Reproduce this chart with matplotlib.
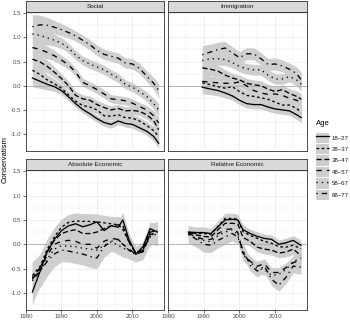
import matplotlib
matplotlib.use('Agg')
import matplotlib.pyplot as plt
import numpy as np
from matplotlib.patches import Patch
from matplotlib.lines import Line2D
from matplotlib.ticker import MultipleLocator, FixedLocator

plt.rcParams['font.family'] = ['Liberation Sans', 'DejaVu Sans']

# ---------------- data ----------------
ages = ['18–27', '28–37', '38–47', '48–57', '58–67', '68–77']
age_dashes = [None, (2, 2), (4, 2), (4, 4), (1, 3), (1, 3, 4, 3)]
age_se_mult = [0.9, 0.9, 1.0, 1.0, 1.1, 1.25]

panel_titles = ['Social', 'Immigration', 'Absolute Economic', 'Relative Economic']

social_years = [1981.8, 1984, 1986, 1988, 1990, 1992, 1994, 1996, 1998, 2000,
                2002, 2004, 2006, 2008, 2010, 2012, 2014, 2016, 2017.4]
social_vals = [
    [0.16, 0.09, 0.03, -0.02, -0.10, -0.23, -0.37, -0.49, -0.58, -0.68, -0.76, -0.80, -0.73, -0.78, -0.80, -0.87, -0.94, -1.05, -1.19],
    [0.32, 0.23, 0.12, 0.04, -0.05, -0.19, -0.32, -0.41, -0.44, -0.50, -0.62, -0.63, -0.60, -0.66, -0.67, -0.73, -0.82, -0.93, -1.05],
    [0.55, 0.49, 0.40, 0.28, 0.15, 0.00, -0.20, -0.27, -0.30, -0.39, -0.45, -0.50, -0.47, -0.52, -0.51, -0.53, -0.60, -0.72, -0.91],
    [0.79, 0.75, 0.69, 0.62, 0.53, 0.43, 0.28, 0.07, 0.00, -0.08, -0.17, -0.27, -0.29, -0.31, -0.36, -0.43, -0.50, -0.62, -0.77],
    [1.07, 1.04, 0.99, 0.94, 0.88, 0.78, 0.63, 0.52, 0.45, 0.39, 0.33, 0.24, 0.16, 0.03, -0.03, -0.12, -0.22, -0.37, -0.50],
    [1.22, 1.26, 1.25, 1.21, 1.16, 1.10, 1.03, 0.94, 0.85, 0.73, 0.65, 0.61, 0.57, 0.47, 0.45, 0.36, 0.20, 0.05, -0.10],
]
social_se = [0.20, 0.16, 0.13, 0.11, 0.10, 0.09, 0.085, 0.085, 0.085, 0.085,
             0.085, 0.085, 0.085, 0.085, 0.085, 0.085, 0.09, 0.10, 0.12]

imm_years = [1989.6, 1992, 1994, 1996, 1998, 2000, 2002, 2004, 2006, 2008,
             2010, 2012, 2014, 2016, 2017.3]
imm_vals = [
    [-0.03, -0.07, -0.10, -0.15, -0.21, -0.30, -0.37, -0.39, -0.39, -0.44, -0.48, -0.50, -0.52, -0.60, -0.66],
    [0.06, 0.02, -0.02, -0.05, -0.02, -0.12, -0.20, -0.22, -0.25, -0.28, -0.34, -0.40, -0.40, -0.47, -0.55],
    [0.37, 0.34, 0.30, 0.22, 0.16, 0.12, 0.05, 0.02, 0.00, -0.07, -0.12, -0.08, -0.16, -0.22, -0.28],
    [0.09, 0.07, 0.06, 0.05, 0.05, 0.08, 0.00, -0.10, -0.15, -0.18, -0.17, -0.20, -0.26, -0.30, -0.35],
    [0.52, 0.56, 0.56, 0.54, 0.48, 0.40, 0.35, 0.33, 0.33, 0.22, 0.14, 0.14, 0.19, 0.12, 0.03],
    [0.64, 0.70, 0.75, 0.78, 0.68, 0.58, 0.66, 0.66, 0.56, 0.44, 0.45, 0.41, 0.34, 0.25, 0.12],
]
imm_se = [0.15, 0.13, 0.12, 0.11, 0.10, 0.10, 0.10, 0.10, 0.10, 0.10,
          0.10, 0.10, 0.10, 0.11, 0.12]

abs_years = [1981.8, 1984, 1986, 1988, 1990, 1992, 1994, 1996, 1998, 2000,
             2002, 2004, 2006, 2007.3, 2009, 2011, 2013, 2015, 2017]
abs_vals = [
    [-0.98, -0.55, -0.15, 0.10, 0.28, 0.38, 0.42, 0.36, 0.40, 0.46, 0.28, 0.38, 0.35, 0.50, 0.10, -0.20, -0.05, 0.32, 0.25],
    [-0.64, -0.45, -0.10, 0.15, 0.35, 0.45, 0.48, 0.47, 0.47, 0.46, 0.44, 0.42, 0.40, 0.30, 0.05, -0.20, -0.12, 0.25, 0.30],
    [-0.70, -0.48, -0.15, 0.08, 0.22, 0.27, 0.30, 0.22, 0.22, 0.25, 0.32, 0.38, 0.40, 0.38, 0.05, -0.18, -0.10, 0.25, 0.28],
    [-0.72, -0.50, -0.22, 0.00, 0.06, 0.08, 0.06, 0.00, 0.00, -0.08, 0.06, 0.12, 0.10, 0.00, -0.10, -0.20, -0.15, 0.20, 0.24],
    [-0.68, -0.55, -0.30, -0.10, -0.03, -0.04, -0.05, -0.08, -0.10, -0.12, -0.02, 0.05, -0.02, -0.08, -0.12, -0.22, -0.12, 0.15, 0.22],
    [-0.75, -0.55, -0.35, -0.20, -0.12, -0.14, -0.17, -0.20, -0.25, -0.28, -0.05, 0.06, 0.10, 0.00, -0.12, -0.20, -0.15, 0.20, 0.20],
]
abs_se = [0.30, 0.27, 0.24, 0.21, 0.19, 0.18, 0.18, 0.18, 0.18, 0.18,
          0.17, 0.17, 0.17, 0.17, 0.15, 0.13, 0.13, 0.15, 0.19]

rel_years = [1985.7, 1988, 1990, 1992, 1994, 1996, 1998, 1999.5, 2001, 2003,
             2005, 2007, 2009, 2011, 2013, 2015, 2017.2]
rel_vals = [
    [0.25, 0.24, 0.24, 0.22, 0.36, 0.50, 0.51, 0.50, 0.30, 0.22, 0.16, 0.12, 0.10, 0.00, 0.03, 0.08, -0.02],
    [0.23, 0.22, 0.22, 0.20, 0.37, 0.53, 0.53, 0.52, 0.26, 0.18, 0.12, 0.06, 0.02, -0.05, -0.06, -0.02, -0.09],
    [0.25, 0.19, 0.16, 0.15, 0.30, 0.43, 0.43, 0.42, 0.14, 0.06, -0.06, -0.10, -0.12, -0.18, -0.16, -0.10, -0.23],
    [0.22, 0.15, 0.10, 0.10, 0.22, 0.30, 0.32, 0.25, -0.18, -0.35, -0.45, -0.40, -0.58, -0.58, -0.48, -0.38, -0.32],
    [0.20, 0.12, 0.08, 0.05, 0.18, 0.25, 0.30, 0.20, -0.22, -0.36, -0.50, -0.52, -0.64, -0.62, -0.52, -0.36, -0.28],
    [0.20, 0.10, 0.00, -0.02, 0.08, 0.15, 0.22, 0.15, -0.12, -0.43, -0.55, -0.45, -0.72, -0.84, -0.68, -0.45, -0.47],
]
rel_se = [0.14, 0.13, 0.13, 0.12, 0.12, 0.12, 0.12, 0.11, 0.11, 0.10,
          0.10, 0.10, 0.10, 0.10, 0.10, 0.11, 0.12]

x_ticks = [1980, 1990, 2000, 2010]
y_ticks = [-1.0, -0.5, 0.0, 0.5, 1.0, 1.5]
y_ticklabels = ['-1.0', '-0.5', '0.0', '0.5', '1.0', '1.5']

# ---------------- layout ----------------
W, H = 350, 320
fig = plt.figure(figsize=(W / 100, H / 100), dpi=100)

RIBBON = '#cecece'
GRID = '#ebebeb'
BORDER = '#333333'
STRIP = '#d9d9d9'

col_x = [26, 168]
col_w = [138, 139]
row_top = [12, 170]
row_h = [139, 140]
strip_h = 11.5

panels = [
    (social_years, social_vals, social_se),
    (imm_years, imm_vals, imm_se),
    (abs_years, abs_vals, abs_se),
    (rel_years, rel_vals, rel_se),
]

for i, (years, vals, se) in enumerate(panels):
    r, c = divmod(i, 2)
    x0, w = col_x[c], col_w[c]
    top, h = row_top[r], row_h[r]
    ax = fig.add_axes([x0 / W, (H - top - h) / H, w / W, h / H])
    ax.set_xlim(1980, 2018.9)
    ax.set_ylim(-1.35, 1.525)
    ax.xaxis.set_major_locator(FixedLocator(x_ticks))
    ax.xaxis.set_minor_locator(MultipleLocator(5))
    ax.yaxis.set_major_locator(FixedLocator(y_ticks))
    ax.yaxis.set_minor_locator(MultipleLocator(0.25))
    ax.grid(which='major', color=GRID, lw=0.55)
    ax.grid(which='minor', color=GRID, lw=0.3)
    ax.set_axisbelow(True)
    for s in ax.spines.values():
        s.set_color(BORDER)
        s.set_linewidth(0.6)
    ax.tick_params(which='minor', length=0)
    ax.tick_params(which='major', length=2, width=0.5, color=BORDER,
                   labelsize=4.4, labelcolor='#4d4d4d', pad=1.2)
    if c == 0:
        ax.set_yticklabels(y_ticklabels)
    else:
        ax.tick_params(axis='y', which='major', length=0, labelleft=False)
    if r == 1:
        ax.set_xticklabels([str(t) for t in x_ticks])
    else:
        ax.tick_params(axis='x', which='major', length=0, labelbottom=False)

    yrs = np.array(years)
    for k in range(len(ages)):
        v = np.array(vals[k])
        hw = np.array(se) * age_se_mult[k]
        ax.fill_between(yrs, v - hw, v + hw, color=RIBBON, lw=0, zorder=1)
    ax.axhline(0, color='#a6a6a6', lw=0.55, zorder=1.5)
    for k in range(len(ages)):
        kw = dict(color='black', lw=0.95, zorder=2, solid_joinstyle='round')
        if age_dashes[k] is None:
            ax.plot(yrs, vals[k], linestyle='-', **kw)
        else:
            ax.plot(yrs, vals[k], linestyle=(0, age_dashes[k]), **kw)

    # strip
    sax = fig.add_axes([x0 / W, (H - top) / H, w / W, strip_h / H])
    sax.set_facecolor(STRIP)
    sax.set_xticks([])
    sax.set_yticks([])
    for s in sax.spines.values():
        s.set_color(BORDER)
        s.set_linewidth(0.6)
    sax.text(0.5, 0.5, panel_titles[i], ha='center', va='center',
             fontsize=4.6, color='#1a1a1a', transform=sax.transAxes)

fig.text(5.5 / W, 1 - 160 / H, 'Conservatism', rotation=90, ha='center',
         va='center', fontsize=5.5, color='black')

handles = []
for k in range(len(ages)):
    ls = '-' if age_dashes[k] is None else (0, age_dashes[k])
    handles.append((Patch(facecolor=RIBBON, edgecolor='none'),
                    Line2D([], [], color='black', lw=0.95, linestyle=ls)))
leg = fig.legend(handles, ages, loc='upper left',
                 bbox_to_anchor=(316 / W, 1 - 120 / H), frameon=False,
                 title='Age', fontsize=4.4, title_fontsize=5.5,
                 handlelength=2.2, handleheight=2.2, labelspacing=0.2,
                 handletextpad=0.35, borderpad=0, borderaxespad=0,
                 alignment='left')
leg._legend_box.sep = 4
for t in leg.get_texts():
    t.set_color('#1a1a1a')

fig.savefig('out.png', dpi=100)
